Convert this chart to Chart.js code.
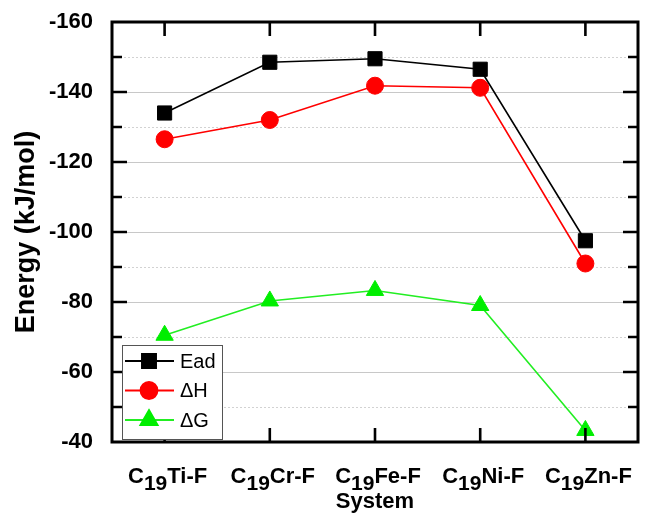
<!DOCTYPE html>
<html>
<head>
<meta charset="utf-8">
<script src="https://cdn.jsdelivr.net/npm/chart.js@4.4.1/dist/chart.umd.min.js"></script>
<style>
  html, body { margin: 0; padding: 0; background: #fff; }
  #wrap { width: 654px; height: 517px; }
</style>
</head>
<body>
<div id="wrap"><canvas id="chart"></canvas></div>
<script>
// data
const metals = ["Ti", "Cr", "Fe", "Ni", "Zn"];
const categories = metals.map(m => "C19" + m + "-F");
const ead = [-134, -148.5, -149.5, -146.5, -97.5];
const deltaH = [-126.5, -132, -141.8, -141.2, -91];
const deltaG = [-70.5, -80.3, -83.3, -79, -43.3];
const yTicks = [-160, -140, -120, -100, -80, -60, -40];
const yMinorStep = 10;

const FONT = "'Liberation Sans', Arial, sans-serif";

// grid lines behind the data (solid at labelled ticks, dotted in between)
const gridPlugin = {
    id: "gridPlugin",
    beforeDatasetsDraw(chart) {
        const { ctx, chartArea, scales } = chart;
        const y = scales.y;
        ctx.save();
        ctx.lineWidth = 1;
        for (let v = y.min + yMinorStep; v < y.max; v += yMinorStep) {
            const py = Math.round(y.getPixelForValue(v)) + 0.5;
            if (yTicks.includes(v)) {
                ctx.strokeStyle = "#c8c8c8";
                ctx.setLineDash([]);
            } else {
                ctx.strokeStyle = "#d2d2d2";
                ctx.setLineDash([2, 2]);
            }
            ctx.beginPath();
            ctx.moveTo(chartArea.left, py);
            ctx.lineTo(chartArea.right, py);
            ctx.stroke();
        }
        ctx.restore();
    }
};

// frame, inward ticks, subscript category labels and the boxed legend
const framePlugin = {
    id: "framePlugin",
    afterDraw(chart) {
        const { ctx, chartArea, scales } = chart;
        const { left, right, top, bottom } = chartArea;
        const x = scales.x, y = scales.y;
        ctx.save();

        ctx.strokeStyle = "#000";
        ctx.lineWidth = 3;
        ctx.setLineDash([]);
        ctx.strokeRect(left, top, right - left, bottom - top);

        ctx.lineWidth = 2.6;
        ctx.beginPath();
        for (let v = y.min + yMinorStep; v < y.max; v += yMinorStep) {
            const py = y.getPixelForValue(v);
            const len = yTicks.includes(v) ? 15 : 10;
            ctx.moveTo(left, py); ctx.lineTo(left + len, py);
            ctx.moveTo(right, py); ctx.lineTo(right - len, py);
        }
        categories.forEach((c, i) => {
            const px = x.getPixelForValue(i);
            ctx.moveTo(px, bottom); ctx.lineTo(px, bottom - 14);
            ctx.moveTo(px, top); ctx.lineTo(px, top + 14);
        });
        ctx.stroke();

        // category labels: C + subscript 19 + rest
        ctx.fillStyle = "#000";
        ctx.textBaseline = "alphabetic";
        ctx.textAlign = "left";
        const mainFont = "bold 22px " + FONT;
        const subFont = "bold 21px " + FONT;
        metals.forEach((m, i) => {
            const px = x.getPixelForValue(i) + 3;
            const a = "C", s = "19", b = m + "-F";
            ctx.font = mainFont;
            const wa = ctx.measureText(a).width, wb = ctx.measureText(b).width;
            ctx.font = subFont;
            const ws = ctx.measureText(s).width;
            let cx = px - (wa + ws + wb) / 2;
            const base = 483;
            ctx.font = mainFont;
            ctx.fillText(a, cx, base);
            cx += wa;
            ctx.font = subFont;
            ctx.fillText(s, cx, base + 7);
            cx += ws;
            ctx.font = mainFont;
            ctx.fillText(b, cx, base);
        });

        // legend box inside the plot, lower left
        const lx = left + 10, ly = bottom - 97, lw = 100, lh = 94;
        ctx.fillStyle = "#fff";
        ctx.fillRect(lx, ly, lw, lh);
        ctx.strokeStyle = "#555";
        ctx.lineWidth = 1;
        ctx.strokeRect(lx + 0.5, ly + 0.5, lw, lh);
        const names = ["Ead", "\u0394H", "\u0394G"];
        chart.data.datasets.forEach((ds, i) => {
            const cy = ly + 16 + i * 29.5;
            ctx.strokeStyle = ds.borderColor;
            ctx.lineWidth = 1.8;
            ctx.beginPath();
            ctx.moveTo(lx + 3, cy);
            ctx.lineTo(lx + 52, cy);
            ctx.stroke();
            ctx.fillStyle = ds.pointBackgroundColor;
            ctx.strokeStyle = ds.pointBackgroundColor;
            Chart.helpers.drawPoint(ctx, {
                pointStyle: ds.pointStyle,
                radius: ds.pointRadius,
                borderWidth: 1
            }, lx + 27, cy);
            ctx.fillStyle = "#000";
            ctx.font = "20px " + FONT;
            ctx.textBaseline = "middle";
            ctx.fillText(names[i], lx + 58, cy + 1);
        });
        ctx.restore();
    }
};

new Chart(document.getElementById("chart"), {
    type: "line",
    data: {
        labels: categories,
        datasets: [
            {
                label: "Ead",
                data: ead,
                borderColor: "#000000",
                pointBackgroundColor: "#000000",
                pointBorderColor: "#000000",
                pointStyle: "rect",
                pointRadius: 10
            },
            {
                label: "\u0394H",
                data: deltaH,
                borderColor: "#ff0000",
                pointBackgroundColor: "#ff0000",
                pointBorderColor: "#ff0000",
                pointStyle: "circle",
                pointRadius: 8.5
            },
            {
                label: "\u0394G",
                data: deltaG,
                borderColor: "#22ee22",
                pointBackgroundColor: "#00ee00",
                pointBorderColor: "#00ee00",
                pointStyle: "triangle",
                pointRadius: 10
            }
        ]
    },
    options: {
        responsive: true,
        maintainAspectRatio: false,
        animation: false,
        devicePixelRatio: 1,
        layout: { padding: { top: 22, right: 16, left: 0, bottom: 0 } },
        elements: {
            line: { borderWidth: 1.6, tension: 0 },
            point: { borderWidth: 1, hoverRadius: 10 }
        },
        plugins: {
            legend: { display: false },
            tooltip: { enabled: false }
        },
        scales: {
            x: {
                offset: true,
                grid: { display: false },
                border: { display: false },
                ticks: { display: false },
                title: {
                    display: true,
                    text: "System",
                    color: "#000",
                    font: { family: FONT, size: 22, weight: "bold" },
                    padding: { top: 0, bottom: 2 }
                },
                afterFit(scale) { scale.height = 75; }
            },
            y: {
                reverse: true,
                min: -160,
                max: -40,
                grid: { display: false, drawTicks: false },
                border: { display: false },
                ticks: {
                    stepSize: 20,
                    padding: 19,
                    color: "#000",
                    font: { family: FONT, size: 22, weight: "bold" }
                },
                title: {
                    display: true,
                    text: "Energy (kJ/mol)",
                    color: "#000",
                    font: { family: FONT, size: 27, weight: "bold" },
                    padding: { top: 10, bottom: 0 }
                },
                afterFit(scale) {
                    scale.width = 112;
                    scale.paddingTop = 0;
                    scale.paddingBottom = 0;
                }
            }
        }
    },
    plugins: [gridPlugin, framePlugin]
});
</script>
</body>
</html>
